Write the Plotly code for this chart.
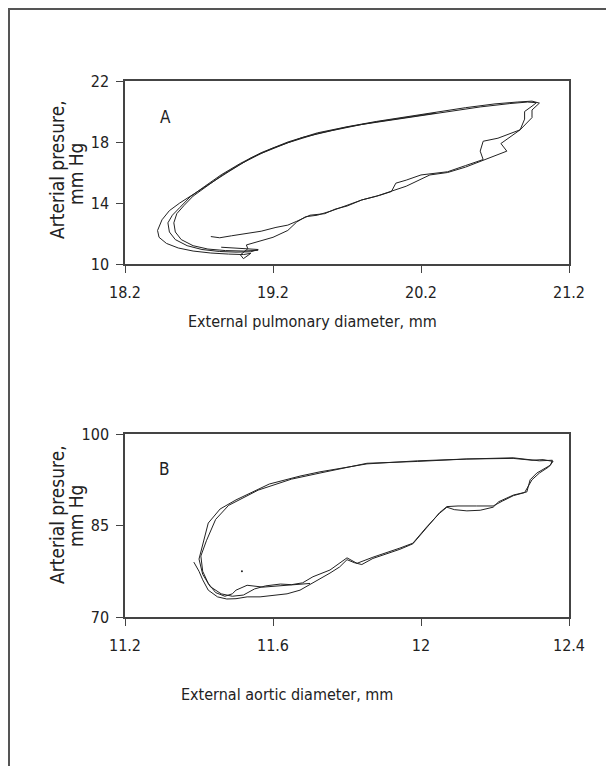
import plotly.graph_objects as go

# ---------------- Panel A data (pulmonary) ----------------
a_x_ticks = [18.2, 19.2, 20.2, 21.2]
a_x_ticktext = ["18.2", "19.2", "20.2", "21.2"]
a_y_ticks = [10, 14, 18, 22]
a_y_ticktext = ["10", "14", "18", "22"]

a1_x = [18.78, 18.84, 18.92, 19.02, 19.12, 19.22, 19.3, 19.36, 19.45, 19.55, 19.62, 19.7, 19.8,
        19.92, 20.0, 20.03, 20.1, 20.2, 20.28, 20.38, 20.5, 20.62, 20.6, 20.62, 20.72, 20.87,
        20.9, 20.9, 20.95, 20.98, 20.92, 20.8, 20.6, 20.4, 20.2, 20.0, 19.8, 19.6, 19.4, 19.2,
        19.05, 18.9, 18.78, 18.67, 18.57, 18.5, 18.45, 18.42, 18.43, 18.48, 18.56, 18.66, 18.78,
        18.9, 19.0, 19.05]
a1_y = [11.8, 11.72, 11.85, 12.0, 12.15, 12.4, 12.55, 12.8, 13.2, 13.3, 13.6, 13.8, 14.2,
        14.5, 14.75, 15.3, 15.5, 15.84, 15.95, 16.05, 16.45, 16.85, 17.4, 18.05, 18.25, 18.8,
        19.5, 20.0, 20.35, 20.58, 20.62, 20.52, 20.3, 20.0, 19.7, 19.45, 19.15, 18.75, 18.3, 17.6,
        16.95, 16.05, 15.3, 14.6, 14.0, 13.5, 12.9, 12.2, 11.75, 11.35, 11.05, 10.85, 10.72,
        10.65, 10.62, 10.7]

a2_x = [19.05, 19.0, 18.98, 19.03, 19.02, 19.1, 19.2, 19.3, 19.36, 19.42, 19.5, 19.6, 19.7,
        19.8, 19.9, 19.99, 20.1, 20.26, 20.38, 20.5, 20.64, 20.78, 20.74, 20.8, 20.87, 20.95,
        20.95, 21.0, 20.95, 20.85, 20.7, 20.5, 20.3, 20.1, 19.9, 19.7, 19.5, 19.3, 19.12, 18.98,
        18.85, 18.74, 18.64, 18.57, 18.52, 18.49, 18.5, 18.54, 18.62, 18.72, 18.84, 18.95, 19.05,
        19.1, 19.02, 18.92, 18.85]
a2_y = [10.7, 10.35, 10.6, 11.0, 11.25, 11.45, 11.75, 12.2, 12.75, 13.1, 13.2, 13.5, 13.85,
        14.2, 14.45, 14.75, 15.1, 15.84, 16.0, 16.35, 16.9, 17.4, 17.9, 18.3, 18.8, 19.6,
        20.1, 20.55, 20.68, 20.62, 20.5, 20.25, 19.95, 19.65, 19.35, 19.0, 18.6, 18.0, 17.3, 16.6,
        15.85, 15.1, 14.4, 13.7, 13.2, 12.7, 12.1, 11.6, 11.2, 10.95, 10.82, 10.78, 10.8,
        10.95, 11.0, 11.05, 11.1]

a3_x = [20.3, 20.1, 19.9, 19.7, 19.5, 19.3, 19.12, 18.98, 18.86, 18.76, 18.66, 18.6, 18.55,
        18.53, 18.54, 18.58, 18.66, 18.76, 18.88, 19.0, 19.1]
a3_y = [19.9, 19.62, 19.32, 18.98, 18.55, 17.95, 17.25, 16.55, 15.85, 15.15, 14.45, 13.85, 13.3,
        12.7, 12.1, 11.6, 11.2, 10.98, 10.88, 10.85, 10.9]

# ---------------- Panel B data (aortic) ----------------
b_x_ticks = [11.2, 11.6, 12.0, 12.4]
b_x_ticktext = ["11.2", "11.6", "12", "12.4"]
b_y_ticks = [70, 85, 100]
b_y_ticktext = ["70", "85", "100"]

b1_x = [11.386, 11.40, 11.41, 11.425, 11.45, 11.475, 11.50, 11.53, 11.565, 11.60, 11.638, 11.673,
        11.70, 11.727, 11.754, 11.78, 11.8, 11.82, 11.84, 11.87, 11.916, 11.943, 11.978, 12.0,
        12.016, 12.035, 12.05, 12.07, 12.1, 12.15, 12.195, 12.22, 12.25, 12.28, 12.29, 12.30,
        12.32, 12.345, 12.357, 12.33, 12.3, 12.249, 12.124, 11.99, 11.854, 11.727, 11.673, 11.59,
        11.50, 11.457, 11.425, 11.41, 11.40, 11.41, 11.43, 11.46, 11.49, 11.52]
b1_y = [79.0, 77.5, 76.1, 74.4, 73.3, 72.95, 73.0, 73.3, 73.3, 73.5, 73.8, 74.4,
        75.3, 76.3, 77.2, 78.2, 79.4, 78.9, 78.6, 79.6, 80.5, 81.1, 82.0, 83.6,
        84.6, 86.0, 87.1, 88.1, 88.2, 88.2, 88.2, 89.0, 89.9, 90.4, 91.5, 92.5,
        93.6, 94.6, 95.5, 95.8, 95.7, 96.0, 95.9, 95.6, 95.1, 93.8, 93.1, 91.8,
        89.2, 87.7, 85.4, 81.8, 79.5, 77.0, 75.0, 73.8, 73.4, 73.6]

b2_x = [11.52, 11.55, 11.58, 11.62, 11.65, 11.68, 11.708, 11.754, 11.8, 11.827, 11.87, 11.916,
        11.943, 11.978, 12.016, 12.05, 12.07, 12.09, 12.124, 12.16, 12.195, 12.21, 12.25, 12.286,
        12.295, 12.313, 12.35, 12.355, 12.32, 12.249, 12.124, 11.99, 11.854, 11.727, 11.65, 11.56,
        11.48, 11.445, 11.42, 11.405, 11.41, 11.425, 11.445, 11.47, 11.49, 11.50, 11.53, 11.573,
        11.638, 11.7]
b2_y = [73.6, 74.6, 75.1, 75.4, 75.3, 75.6, 76.6, 77.7, 79.7, 78.8, 79.8, 80.7,
        81.3, 82.1, 84.8, 87.0, 88.0, 87.6, 87.4, 87.5, 88.0, 88.9, 90.0, 90.5,
        92.5, 93.6, 94.9, 95.7, 95.6, 96.1, 95.9, 95.5, 95.2, 93.6, 92.6, 90.8,
        88.3, 86.0, 82.5, 80.0, 77.5, 75.5, 74.0, 73.4, 73.8, 74.4, 75.2, 74.9,
        75.2, 75.5]

b_dot_x = [11.516]
b_dot_y = [77.5]

# ---------------- Figure ----------------
FONT = "Liberation Sans Narrow, DejaVu Sans Condensed, Arial Narrow, sans-serif"
LINE = "#222222"
AXC = "#444444"

fig = go.Figure()
for xs, ys in [(a1_x, a1_y), (a2_x, a2_y), (a3_x, a3_y)]:
    fig.add_trace(go.Scatter(x=xs, y=ys, mode="lines", line=dict(color=LINE, width=1),
                             xaxis="x", yaxis="y", showlegend=False, hoverinfo="skip"))
for xs, ys in [(b1_x, b1_y), (b2_x, b2_y)]:
    fig.add_trace(go.Scatter(x=xs, y=ys, mode="lines", line=dict(color=LINE, width=1),
                             xaxis="x2", yaxis="y2", showlegend=False, hoverinfo="skip"))
fig.add_trace(go.Scatter(x=b_dot_x, y=b_dot_y, mode="markers",
                         marker=dict(color=LINE, size=2), xaxis="x2", yaxis="y2",
                         showlegend=False, hoverinfo="skip"))

# the page body has an 8px margin: the figure starts at page (8, 8)
OFF = 8
W, H = 614 - OFF, 766 - OFF
def px_x(p):
    return (p - OFF) / W
def px_y(p):
    return 1 - (p - OFF) / H

axis_common = dict(showgrid=False, zeroline=False, showline=True, mirror=True,
                   linecolor=AXC, linewidth=1.5, ticks="outside", ticklen=7,
                   tickcolor=AXC, tickwidth=1.2, automargin=False,
                   tickfont=dict(family=FONT, size=16, color="#222"))
xax = dict(ticklabelstandoff=6, **axis_common)
yax = dict(ticklabelstandoff=4, **axis_common)

fig.update_layout(
    width=W, height=H, margin=dict(l=0, r=0, t=0, b=0, pad=0, autoexpand=False),
    paper_bgcolor="white", plot_bgcolor="white",
    xaxis=dict(domain=[px_x(125), px_x(569)], range=[18.2, 21.2], anchor="y",
               tickvals=a_x_ticks, ticktext=a_x_ticktext, **xax),
    yaxis=dict(domain=[px_y(264), px_y(81)], range=[10, 22], anchor="x",
               tickvals=a_y_ticks, ticktext=a_y_ticktext, **yax),
    xaxis2=dict(domain=[px_x(125), px_x(569)], range=[11.2, 12.4], anchor="y2",
                tickvals=b_x_ticks, ticktext=b_x_ticktext, **xax),
    yaxis2=dict(domain=[px_y(617), px_y(434)], range=[70, 100], anchor="x2",
                tickvals=b_y_ticks, ticktext=b_y_ticktext, **yax),
)

def ann(text, x, y, size=16, angle=0, xanchor="center"):
    fig.add_annotation(text=text, x=px_x(x), y=px_y(y), xref="paper", yref="paper",
                       showarrow=False, textangle=angle, xanchor=xanchor, yanchor="middle",
                       font=dict(family=FONT, size=size, color="#222"))

ann("A", 165, 117, size=17)
ann("B", 164, 469, size=17)
ann("External pulmonary diameter, mm", 312, 322, size=16)
ann("External aortic diameter, mm", 287, 694, size=16)
ann("Arterial presure,", 57, 169, size=19, angle=-90)
ann("mm Hg", 76, 174, size=19, angle=-90)
ann("Arterial presure,", 57, 514, size=19, angle=-90)
ann("mm Hg", 76, 516, size=19, angle=-90)

# outer frame: top and left edges, running off the right and bottom of the page
fig.add_shape(type="line", xref="paper", yref="paper",
              x0=px_x(8), x1=1, y0=px_y(9), y1=px_y(9),
              line=dict(color="#555", width=2))
fig.add_shape(type="line", xref="paper", yref="paper",
              x0=px_x(9), x1=px_x(9), y0=0, y1=px_y(8),
              line=dict(color="#555", width=2))

fig.write_html("out.html")
